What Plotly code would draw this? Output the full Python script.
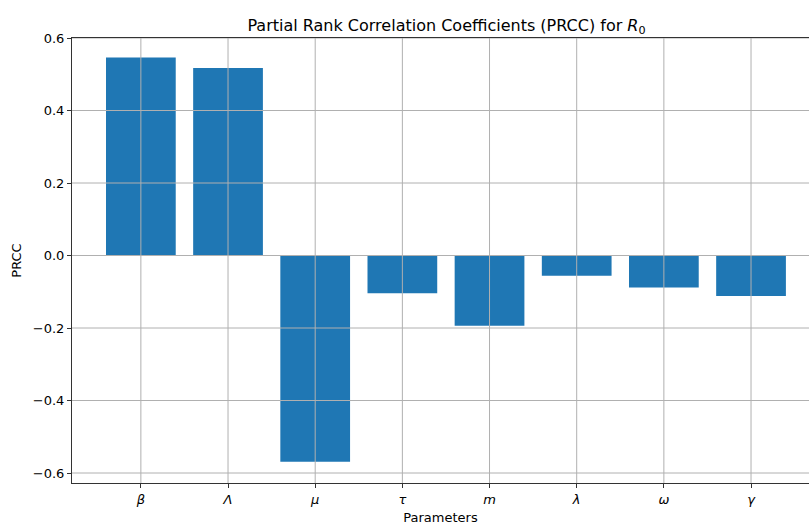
import plotly.graph_objects as go

# Data
parameters = ["β", "Λ", "μ", "τ", "m", "λ", "ω", "γ"]
prcc_values = [0.546, 0.517, -0.569, -0.104, -0.194, -0.056, -0.088, -0.112]
y_ticks = [-0.6, -0.4, -0.2, 0.0, 0.2, 0.4, 0.6]
y_tick_labels = ["−0.6", "−0.4", "−0.2", "0.0", "0.2", "0.4", "0.6"]

x_labels = [f"<i>{p}</i>" for p in parameters]
x_pos = list(range(len(parameters)))

fig = go.Figure()
fig.add_trace(go.Bar(
    x=x_pos,
    y=prcc_values,
    width=0.8,
    marker=dict(color="#1f77b4", line=dict(width=0)),
))

grid_color = "#b0b0b0"
# grid lines drawn above the bars (as in the reference)
for xv in x_pos:
    fig.add_shape(type="line", xref="x", yref="y domain", x0=xv, x1=xv, y0=0, y1=1,
                  line=dict(color=grid_color, width=1), layer="above")
for yv in y_ticks:
    fig.add_shape(type="line", xref="x domain", yref="y", x0=0, x1=1, y0=yv, y1=yv,
                  line=dict(color=grid_color, width=1), layer="above")

font_family = "DejaVu Sans"
fig.update_layout(
    width=809,
    height=526,
    margin=dict(l=72, r=0, t=38, b=43, autoexpand=False),
    plot_bgcolor="white",
    paper_bgcolor="white",
    showlegend=False,
    font=dict(family=font_family, size=13, color="#000000"),
    title=dict(
        text="Partial Rank Correlation Coefficients (PRCC) for <i>R</i><sub>0</sub>",
        x=446.5 / 809, xref="container", xanchor="center",
        y=1 - 25 / 526, yref="container", yanchor="middle",
        font=dict(family=font_family, size=16, color="#000000"),
    ),
    xaxis=dict(
        tickmode="array",
        tickvals=x_pos,
        ticktext=x_labels,
        range=[-0.79, 7.665],
        showgrid=False,
        showline=True, linecolor="#333333", linewidth=1, mirror=True,
        ticks="outside", ticklen=4, tickcolor="#333333",
        zeroline=False, automargin=False,
        title=dict(text="Parameters", font=dict(size=13), standoff=7),
        layer="above traces",
    ),
    yaxis=dict(
        tickmode="array",
        tickvals=y_ticks,
        ticktext=y_tick_labels,
        range=[-0.6276, 0.6],
        showgrid=False,
        showline=True, linecolor="#333333", linewidth=1,
        ticks="outside", ticklen=4, tickcolor="#333333",
        zeroline=False, automargin=False,
        title=dict(text="PRCC", font=dict(size=13), standoff=8),
        layer="above traces",
    ),
)

fig.write_html("out.html",
               config={"displayModeBar": False},
               post_script="document.body.style.margin='0';document.body.style.padding='0';")
